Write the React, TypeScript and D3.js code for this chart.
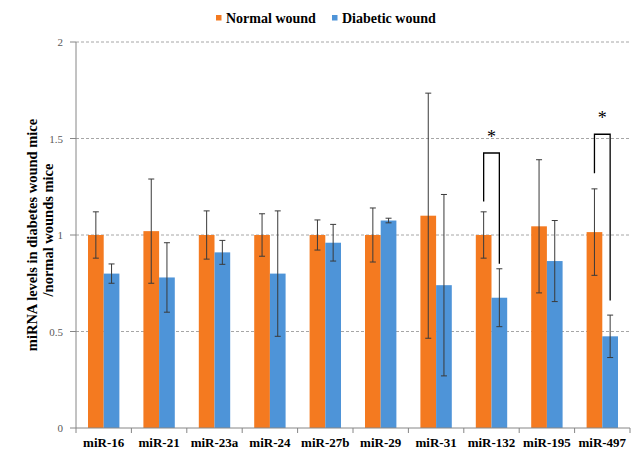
import React from "react";
import * as d3 from "d3";

const categories = ["miR-16", "miR-21", "miR-23a", "miR-24", "miR-27b", "miR-29", "miR-31", "miR-132", "miR-195", "miR-497"];
const seriesNames = ["Normal wound", "Diabetic wound"];
const normalValues = [1.0, 1.02, 1.0, 1.0, 1.0, 1.0, 1.1, 1.0, 1.045, 1.015];
const normalErrors = [0.12, 0.27, 0.125, 0.11, 0.078, 0.14, 0.635, 0.12, 0.345, 0.224];
const diabeticValues = [0.8, 0.78, 0.91, 0.8, 0.96, 1.075, 0.74, 0.675, 0.865, 0.475];
const diabeticErrors = [0.05, 0.18, 0.062, 0.325, 0.095, 0.012, 0.47, 0.15, 0.21, 0.11];
const yTicks = [0, 0.5, 1, 1.5, 2];
const yTickLabels = ["0", "0.5", "1", "1.5", "2"];
// significance brackets: category, bracket top, left end, right end
const sigCategories = ["miR-132", "miR-497"];
const sigTop = [1.425, 1.522];
const sigLeftEnd = [1.173, 1.32];
const sigRightEnd = [0.851, 0.66];
const sigLabel = "*";

const colors = ["#F47A20", "#4E94D8"];

export default function App() {
  const W = 644, H = 462;
  const left = 76, right = 630, top = 42, bottom = 428;
  const y = d3.scaleLinear().domain([0, 2]).range([bottom, top]);
  const x0 = d3.scaleBand<string>().domain(categories).range([left, right]).padding(0);
  const x1 = d3.scaleBand<string>().domain(seriesNames).range([0, x0.bandwidth()]).paddingInner(0).paddingOuter(0.765);
  const bw = x1.bandwidth();
  const serif = "'Liberation Serif', 'Times New Roman', serif";
  const data = [
    { vals: normalValues, errs: normalErrors },
    { vals: diabeticValues, errs: diabeticErrors },
  ];
  return (
    <svg width={W} height={H} style={{ position: "absolute", left: 0, top: 0, background: "#fff" }}>
      <rect x={0} y={0} width={W} height={H} fill="#fff" />
      {/* gridlines */}
      {yTicks.filter((t) => t > 0).map((t) => (
        <line key={"g" + t} x1={left} x2={right} y1={y(t)} y2={y(t)} stroke="#a6a6a6" strokeWidth={1} strokeDasharray="3,2" />
      ))}
      {/* bars */}
      {data.map((s, si) =>
        categories.map((c, ci) => {
          const xb = (x0(c) as number) + (x1(seriesNames[si]) as number);
          return (
            <rect key={si + "-" + ci} x={xb} y={y(s.vals[ci])} width={bw} height={y(0) - y(s.vals[ci])} fill={colors[si]} />
          );
        })
      )}
      {/* error bars */}
      {data.map((s, si) =>
        categories.map((c, ci) => {
          const cx = (x0(c) as number) + (x1(seriesNames[si]) as number) + bw / 2;
          const hi = y(s.vals[ci] + s.errs[ci]);
          const lo = y(s.vals[ci] - s.errs[ci]);
          return (
            <g key={"e" + si + "-" + ci} stroke="#3a3a3a" strokeWidth={1}>
              <line x1={cx} x2={cx} y1={hi} y2={lo} />
              <line x1={cx - 3} x2={cx + 3} y1={hi} y2={hi} />
              <line x1={cx - 3} x2={cx + 3} y1={lo} y2={lo} />
            </g>
          );
        })
      )}
      {/* axes */}
      <line x1={left} x2={left} y1={top} y2={bottom} stroke="#868686" strokeWidth={1} />
      <line x1={left} x2={right} y1={bottom} y2={bottom} stroke="#868686" strokeWidth={1} />
      {yTicks.map((t, i) => (
        <g key={"yt" + t}>
          <line x1={left - 6} x2={left} y1={y(t)} y2={y(t)} stroke="#868686" />
          <text x={63} y={y(t) + 4} textAnchor="end" fontFamily={serif} fontSize={11} fill="#595959">
            {yTickLabels[i]}
          </text>
        </g>
      ))}
      {categories.map((c) => (
        <line key={"xt" + c} x1={x0(c) as number} x2={x0(c) as number} y1={bottom} y2={bottom + 5} stroke="#868686" />
      ))}
      <line x1={right} x2={right} y1={bottom} y2={bottom + 5} stroke="#868686" />
      {categories.map((c) => (
        <text key={"xl" + c} x={(x0(c) as number) + x0.bandwidth() / 2} y={447} textAnchor="middle" fontFamily={serif} fontWeight="bold" fontSize={13} fill="#000">
          {c}
        </text>
      ))}
      {/* y label */}
      <g transform={`translate(37,235) rotate(-90)`}>
        <text x={0} y={0} textAnchor="middle" fontFamily={serif} fontWeight="bold" fontSize={14.5} fill="#000">
          miRNA levels in diabetes wound mice
        </text>
        <text x={5} y={16} textAnchor="middle" fontFamily={serif} fontWeight="bold" fontSize={14.5} fill="#000">
          /normal wounds mice
        </text>
      </g>
      {/* significance */}
      {sigCategories.map((c, i) => {
        const xl = (x0(c) as number) + (x1(seriesNames[0]) as number) + bw / 2;
        const xr = (x0(c) as number) + (x1(seriesNames[1]) as number) + bw / 2;
        const path = `M${xl},${y(sigLeftEnd[i])}V${y(sigTop[i])}H${xr}V${y(sigRightEnd[i])}`;
        return (
          <g key={"s" + c}>
            <path d={path} fill="none" stroke="#000" strokeWidth={1.3} />
            <text x={(xl + xr) / 2} y={y(sigTop[i]) - 10} textAnchor="middle" fontFamily={serif} fontSize={18} fill="#000">
              {sigLabel}
            </text>
          </g>
        );
      })}
      {/* legend */}
      {seriesNames.map((n, i) => {
        const lx = [216, 332][i];
        return (
          <g key={"lg" + n}>
            <rect x={lx} y={15} width={5.5} height={5.5} fill={colors[i]} />
            <text x={lx + 10} y={23} fontFamily={serif} fontWeight="bold" fontSize={14} fill="#000">
              {n}
            </text>
          </g>
        );
      })}
    </svg>
  );
}
